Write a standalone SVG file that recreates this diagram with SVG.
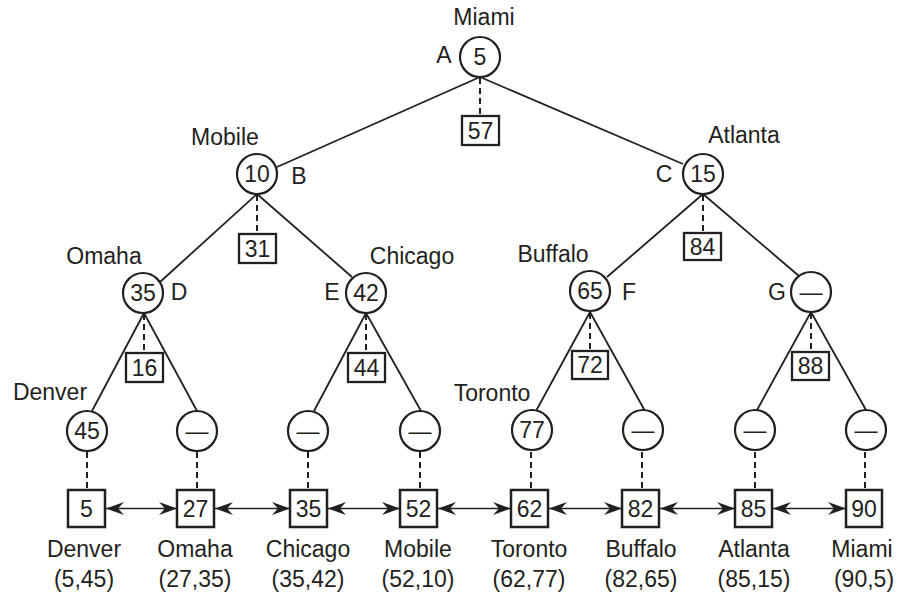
<svg xmlns="http://www.w3.org/2000/svg" width="906" height="597" viewBox="0 0 906 597">
  <style>
    text { font-family: "Liberation Sans", Arial, Helvetica, sans-serif; font-size: 23px; fill: #231f20; }
    .mid { text-anchor: middle; }
    .node { fill: #fff; stroke: #231f20; stroke-width: 2.2; }
    .box { fill: #fff; stroke: #231f20; stroke-width: 2.3; }
    .leafbox { fill: #fff; stroke: #231f20; stroke-width: 2.5; }
    .edge { stroke: #231f20; stroke-width: 1.8; fill: none; }
    .dash { stroke: #231f20; stroke-width: 2; stroke-dasharray: 6 4; fill: none; }
    .link { stroke: #231f20; stroke-width: 1.7; fill: none; marker-start: url(#head); marker-end: url(#head); }
  </style>
  <defs>
    <!-- barbed arrowhead, drawn in user units -->
    <marker id="head" markerUnits="userSpaceOnUse" markerWidth="20" markerHeight="16" refX="18" refY="8" orient="auto-start-reverse" overflow="visible">
      <path d="M18,8 L0,1.5 L6,8 L0,14.5 Z" fill="#231f20"/>
    </marker>
  </defs>

  <!-- connectors: tree edges, dashed ties to key boxes, list links -->
  <g id="connectors">
    <line class="edge" x1="480" y1="77" x2="277" y2="167"/>
    <line class="edge" x1="480" y1="77" x2="683" y2="164"/>
    <line class="edge" x1="257" y1="194" x2="160" y2="282"/>
    <line class="edge" x1="257" y1="194" x2="352" y2="277"/>
    <line class="edge" x1="703" y1="194" x2="607" y2="277"/>
    <line class="edge" x1="703" y1="194" x2="799" y2="276"/>
    <line class="edge" x1="144" y1="313" x2="92" y2="411"/>
    <line class="edge" x1="144" y1="313" x2="197" y2="411"/>
    <line class="edge" x1="366" y1="313" x2="314" y2="411"/>
    <line class="edge" x1="366" y1="313" x2="421" y2="411"/>
    <line class="edge" x1="590" y1="312" x2="536" y2="411"/>
    <line class="edge" x1="590" y1="312" x2="645" y2="411"/>
    <line class="edge" x1="811" y1="312" x2="757" y2="410"/>
    <line class="edge" x1="811" y1="312" x2="866" y2="410"/>

    <line class="dash" x1="480" y1="78" x2="480" y2="116"/>
    <line class="dash" x1="257" y1="195" x2="257" y2="234"/>
    <line class="dash" x1="703" y1="195" x2="703" y2="233"/>
    <line class="dash" x1="144" y1="314" x2="144" y2="353"/>
    <line class="dash" x1="366" y1="314" x2="366" y2="353"/>
    <line class="dash" x1="590" y1="313" x2="590" y2="351"/>
    <line class="dash" x1="811" y1="313" x2="811" y2="352"/>
    <line class="dash" x1="87" y1="452" x2="87" y2="490"/>
    <line class="dash" x1="197" y1="452" x2="197" y2="490"/>
    <line class="dash" x1="308" y1="452" x2="308" y2="490"/>
    <line class="dash" x1="420" y1="452" x2="420" y2="490"/>
    <line class="dash" x1="531" y1="452" x2="531" y2="490"/>
    <line class="dash" x1="642" y1="452" x2="642" y2="490"/>
    <line class="dash" x1="755" y1="452" x2="755" y2="490"/>
    <line class="dash" x1="865" y1="452" x2="865" y2="490"/>

    <line class="link" x1="106" y1="508.5" x2="177" y2="508.5"/>
    <line class="link" x1="215" y1="508.5" x2="290" y2="508.5"/>
    <line class="link" x1="328" y1="508.5" x2="400" y2="508.5"/>
    <line class="link" x1="438" y1="508.5" x2="511" y2="508.5"/>
    <line class="link" x1="549" y1="508.5" x2="622" y2="508.5"/>
    <line class="link" x1="660" y1="508.5" x2="735" y2="508.5"/>
    <line class="link" x1="773" y1="508.5" x2="846" y2="508.5"/>
  </g>

  <!-- internal tree nodes with their key boxes -->
  <g id="node-A">
    <circle class="node" cx="480" cy="57" r="20"/>
    <text class="mid" x="480" y="65">5</text>
    <text class="mid" x="444" y="63">A</text>
    <text class="mid" x="484" y="25">Miami</text>
    <rect class="box" x="462" y="116" width="37" height="29"/>
    <text class="mid" x="480.5" y="139">57</text>
  </g>
  <g id="node-B">
    <circle class="node" cx="257" cy="174" r="20"/>
    <text class="mid" x="257" y="182">10</text>
    <text class="mid" x="299" y="184">B</text>
    <text class="mid" x="225" y="145">Mobile</text>
    <rect class="box" x="239" y="234" width="37" height="29"/>
    <text class="mid" x="257.5" y="257">31</text>
  </g>
  <g id="node-C">
    <circle class="node" cx="703" cy="174" r="20"/>
    <text class="mid" x="703" y="182">15</text>
    <text class="mid" x="664" y="182">C</text>
    <text class="mid" x="744" y="143">Atlanta</text>
    <rect class="box" x="684" y="233" width="37" height="27"/>
    <text class="mid" x="702.5" y="255">84</text>
  </g>
  <g id="node-D">
    <circle class="node" cx="143" cy="293" r="20"/>
    <text class="mid" x="143" y="301">35</text>
    <text class="mid" x="179" y="300">D</text>
    <text class="mid" x="104" y="264">Omaha</text>
    <rect class="box" x="126" y="353" width="37" height="29"/>
    <text class="mid" x="144.5" y="376">16</text>
  </g>
  <g id="node-E">
    <circle class="node" cx="366" cy="293" r="20"/>
    <text class="mid" x="366" y="301">42</text>
    <text class="mid" x="332" y="300">E</text>
    <text class="mid" x="412" y="264">Chicago</text>
    <rect class="box" x="348" y="353" width="37" height="29"/>
    <text class="mid" x="366.5" y="376">44</text>
  </g>
  <g id="node-F">
    <circle class="node" cx="590" cy="291" r="20"/>
    <text class="mid" x="590" y="299">65</text>
    <text class="mid" x="629" y="300">F</text>
    <text class="mid" x="553" y="262">Buffalo</text>
    <rect class="box" x="572" y="351" width="36" height="28"/>
    <text class="mid" x="590" y="373">72</text>
  </g>
  <g id="node-G">
    <circle class="node" cx="811" cy="292" r="20"/>
    <text class="mid" x="811" y="300">—</text>
    <text class="mid" x="777" y="300">G</text>
    <rect class="box" x="792" y="352" width="37" height="28"/>
    <text class="mid" x="810.5" y="374">88</text>
  </g>

  <!-- leaf nodes -->
  <g id="leaf-denver">
    <circle class="node" cx="87" cy="431" r="20"/>
    <text class="mid" x="87" y="439">45</text>
    <text class="mid" x="50" y="400">Denver</text>
  </g>
  <g id="leaf-omaha">
    <circle class="node" cx="197" cy="431" r="20"/>
    <text class="mid" x="197" y="439">—</text>
  </g>
  <g id="leaf-chicago">
    <circle class="node" cx="308" cy="431" r="20"/>
    <text class="mid" x="308" y="439">—</text>
  </g>
  <g id="leaf-mobile">
    <circle class="node" cx="420" cy="431" r="20"/>
    <text class="mid" x="420" y="439">—</text>
  </g>
  <g id="leaf-toronto">
    <circle class="node" cx="532" cy="430" r="20"/>
    <text class="mid" x="532" y="438">77</text>
    <text class="mid" x="492" y="401">Toronto</text>
  </g>
  <g id="leaf-buffalo">
    <circle class="node" cx="643" cy="430" r="20"/>
    <text class="mid" x="643" y="438">—</text>
  </g>
  <g id="leaf-atlanta">
    <circle class="node" cx="755" cy="430" r="20"/>
    <text class="mid" x="755" y="438">—</text>
  </g>
  <g id="leaf-miami">
    <circle class="node" cx="866" cy="430" r="20"/>
    <text class="mid" x="866" y="438">—</text>
  </g>

  <!-- sorted list of points -->
  <g id="item-5">
    <rect class="leafbox" x="68" y="490" width="37" height="37"/>
    <text class="mid" x="86.5" y="517">5</text>
    <text class="mid" x="84" y="557">Denver</text>
    <text class="mid" x="84" y="587">(5,45)</text>
  </g>
  <g id="item-27">
    <rect class="leafbox" x="177" y="490" width="37" height="37"/>
    <text class="mid" x="195.5" y="517">27</text>
    <text class="mid" x="195" y="557">Omaha</text>
    <text class="mid" x="195" y="587">(27,35)</text>
  </g>
  <g id="item-35">
    <rect class="leafbox" x="290" y="490" width="37" height="37"/>
    <text class="mid" x="308.5" y="517">35</text>
    <text class="mid" x="308" y="557">Chicago</text>
    <text class="mid" x="308" y="587">(35,42)</text>
  </g>
  <g id="item-52">
    <rect class="leafbox" x="400" y="490" width="37" height="37"/>
    <text class="mid" x="418.5" y="517">52</text>
    <text class="mid" x="418" y="557">Mobile</text>
    <text class="mid" x="418" y="587">(52,10)</text>
  </g>
  <g id="item-62">
    <rect class="leafbox" x="511" y="490" width="37" height="37"/>
    <text class="mid" x="529.5" y="517">62</text>
    <text class="mid" x="529" y="557">Toronto</text>
    <text class="mid" x="529" y="587">(62,77)</text>
  </g>
  <g id="item-82">
    <rect class="leafbox" x="622" y="490" width="37" height="37"/>
    <text class="mid" x="640.5" y="517">82</text>
    <text class="mid" x="641" y="557">Buffalo</text>
    <text class="mid" x="641" y="587">(82,65)</text>
  </g>
  <g id="item-85">
    <rect class="leafbox" x="735" y="490" width="37" height="37"/>
    <text class="mid" x="753.5" y="517">85</text>
    <text class="mid" x="754" y="557">Atlanta</text>
    <text class="mid" x="754" y="587">(85,15)</text>
  </g>
  <g id="item-90">
    <rect class="leafbox" x="846" y="490" width="36" height="37"/>
    <text class="mid" x="864" y="517">90</text>
    <text class="mid" x="862" y="557">Miami</text>
    <text class="mid" x="864" y="587">(90,5)</text>
  </g>
</svg>
